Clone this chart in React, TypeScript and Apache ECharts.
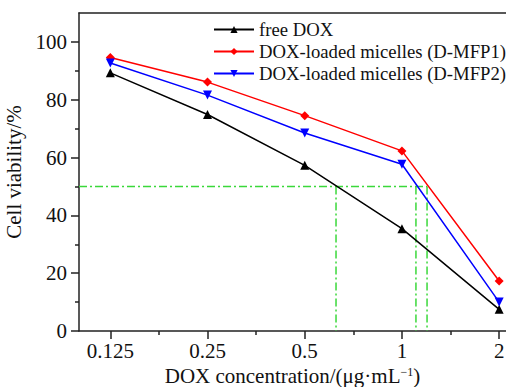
import React, { useEffect, useRef } from "react";
import * as echarts from "echarts";

const concentrations = [0.125, 0.25, 0.5, 1, 2];
const freeDox = [89.3, 74.9, 57.3, 35.4, 7.5];
const dMfp1 = [94.6, 86.1, 74.5, 62.3, 17.3];
const dMfp2 = [92.7, 81.6, 68.5, 57.7, 10.0];
const seriesNames = ["free DOX", "DOX-loaded micelles (D-MFP1)", "DOX-loaded micelles (D-MFP2)"];
const yTicks = [0, 20, 40, 60, 80, 100];
const yMinorTicks = [10, 30, 50, 70, 90];
const xMinorTicks = [0.1768, 0.3536, 0.7071, 1.4142];
const halfLevel = 50;
const ic50 = [0.625, 1.105, 1.196];

const FONT = "'Liberation Serif', 'Times New Roman', serif";
const AXIS_COLOR = "#222";
const TEXT_COLOR = "#111";
const GREEN = "#3ad83a";

export default function App() {
  const ref = useRef<HTMLDivElement>(null);
  useEffect(() => {
    if (!ref.current) return;
    const chart = echarts.init(ref.current, undefined, { renderer: "svg" });
    const axisLineStyle = { color: AXIS_COLOR, width: 1.5 };
    const toPairs = (ys: number[]) => concentrations.map((x, i) => [x, ys[i]]);
    const greenStyle = { color: GREEN, width: 1.5, type: [8, 3, 2, 3] as number[] };
    const guideSeries: any[] = [
      {
        type: "line",
        name: "half-h",
        data: [[0.1, halfLevel], [Math.max(...ic50), halfLevel]],
        showSymbol: false,
        symbol: "none",
        lineStyle: greenStyle,
        silent: true,
        z: 1,
      },
      ...ic50.map((v, i) => ({
        type: "line",
        name: "half-v" + i,
        data: [[v, halfLevel], [v, 0]],
        symbol: "none",
        lineStyle: greenStyle,
        silent: true,
        z: 1,
      })),
    ];
    const dataSeries = [
      { name: seriesNames[0], ys: freeDox, color: "#000000", symbol: "triangle", rotate: 0 },
      { name: seriesNames[1], ys: dMfp1, color: "#ff0000", symbol: "diamond", rotate: 0 },
      { name: seriesNames[2], ys: dMfp2, color: "#0000ff", symbol: "triangle", rotate: 180 },
    ].map((s) => ({
      type: "line",
      name: s.name,
      data: toPairs(s.ys),
      symbol: s.symbol,
      symbolRotate: s.rotate,
      symbolSize: 9,
      showAllSymbol: true,
      itemStyle: { color: s.color },
      lineStyle: { color: s.color, width: 1.5 },
      z: 3,
    }));

    const option: any = {
      animation: false,
      backgroundColor: "#ffffff",
      textStyle: { fontFamily: FONT },
      grid: { left: 79, right: 0, top: 13, bottom: 56, outerBoundsMode: "none" },
      legend: {
        data: seriesNames,
        orient: "vertical",
        left: 208,
        top: 15,
        itemWidth: 40,
        itemHeight: 9,
        itemGap: 3,
        textStyle: { fontFamily: FONT, fontSize: 18.7, color: TEXT_COLOR },
      },
      xAxis: [
        {
          type: "log",
          logBase: 2,
          min: 0.1,
          max: 2.1,
          position: "bottom",
          name: "DOX concentration/(μg·mL{sup|−1})",
          nameLocation: "middle",
          nameGap: 22,
          nameTextStyle: {
            fontFamily: FONT,
            fontSize: 21,
            color: TEXT_COLOR,
            rich: { sup: { fontFamily: FONT, fontSize: 12, color: TEXT_COLOR, verticalAlign: "top" } },
          },
          axisLine: { show: true, lineStyle: axisLineStyle },
          axisTick: { show: true, inside: false, length: 8, customValues: concentrations, lineStyle: axisLineStyle },
          axisLabel: {
            show: true,
            margin: 9,
            customValues: concentrations,
            formatter: (v: number) => String(+Number(v).toPrecision(6)),
            fontFamily: FONT,
            fontSize: 21,
            color: TEXT_COLOR,
          },
          splitLine: { show: false },
        },
        {
          type: "log",
          logBase: 2,
          min: 0.1,
          max: 2.1,
          position: "bottom",
          axisLine: { show: false },
          axisTick: { show: true, inside: false, length: 4, customValues: xMinorTicks, lineStyle: axisLineStyle },
          axisLabel: { show: false },
          splitLine: { show: false },
        },
        {
          type: "value",
          min: 0,
          max: 1,
          position: "top",
          axisLine: { show: true, lineStyle: axisLineStyle },
          axisTick: { show: false },
          axisLabel: { show: false },
          splitLine: { show: false },
        },
      ],
      yAxis: [
        {
          type: "value",
          min: 0,
          max: 110,
          position: "left",
          name: "Cell viability/%",
          nameLocation: "middle",
          nameGap: 45,
          nameTextStyle: { fontFamily: FONT, fontSize: 21, color: TEXT_COLOR },
          axisLine: { show: true, lineStyle: axisLineStyle },
          axisTick: { show: true, inside: false, length: 8, customValues: yTicks, lineStyle: axisLineStyle },
          axisLabel: { show: true, margin: 12, customValues: yTicks, fontFamily: FONT, fontSize: 21, color: TEXT_COLOR },
          splitLine: { show: false },
        },
        {
          type: "value",
          min: 0,
          max: 110,
          position: "left",
          axisLine: { show: false },
          axisTick: { show: true, inside: false, length: 4, customValues: yMinorTicks, lineStyle: axisLineStyle },
          axisLabel: { show: false },
          splitLine: { show: false },
        },
      ],
      series: [...guideSeries, ...dataSeries],
    };
    chart.setOption(option);
    return () => chart.dispose();
  }, []);
  return <div ref={ref} style={{ width: 506, height: 387, position: "absolute", left: 0, top: 0 }} />;
}
